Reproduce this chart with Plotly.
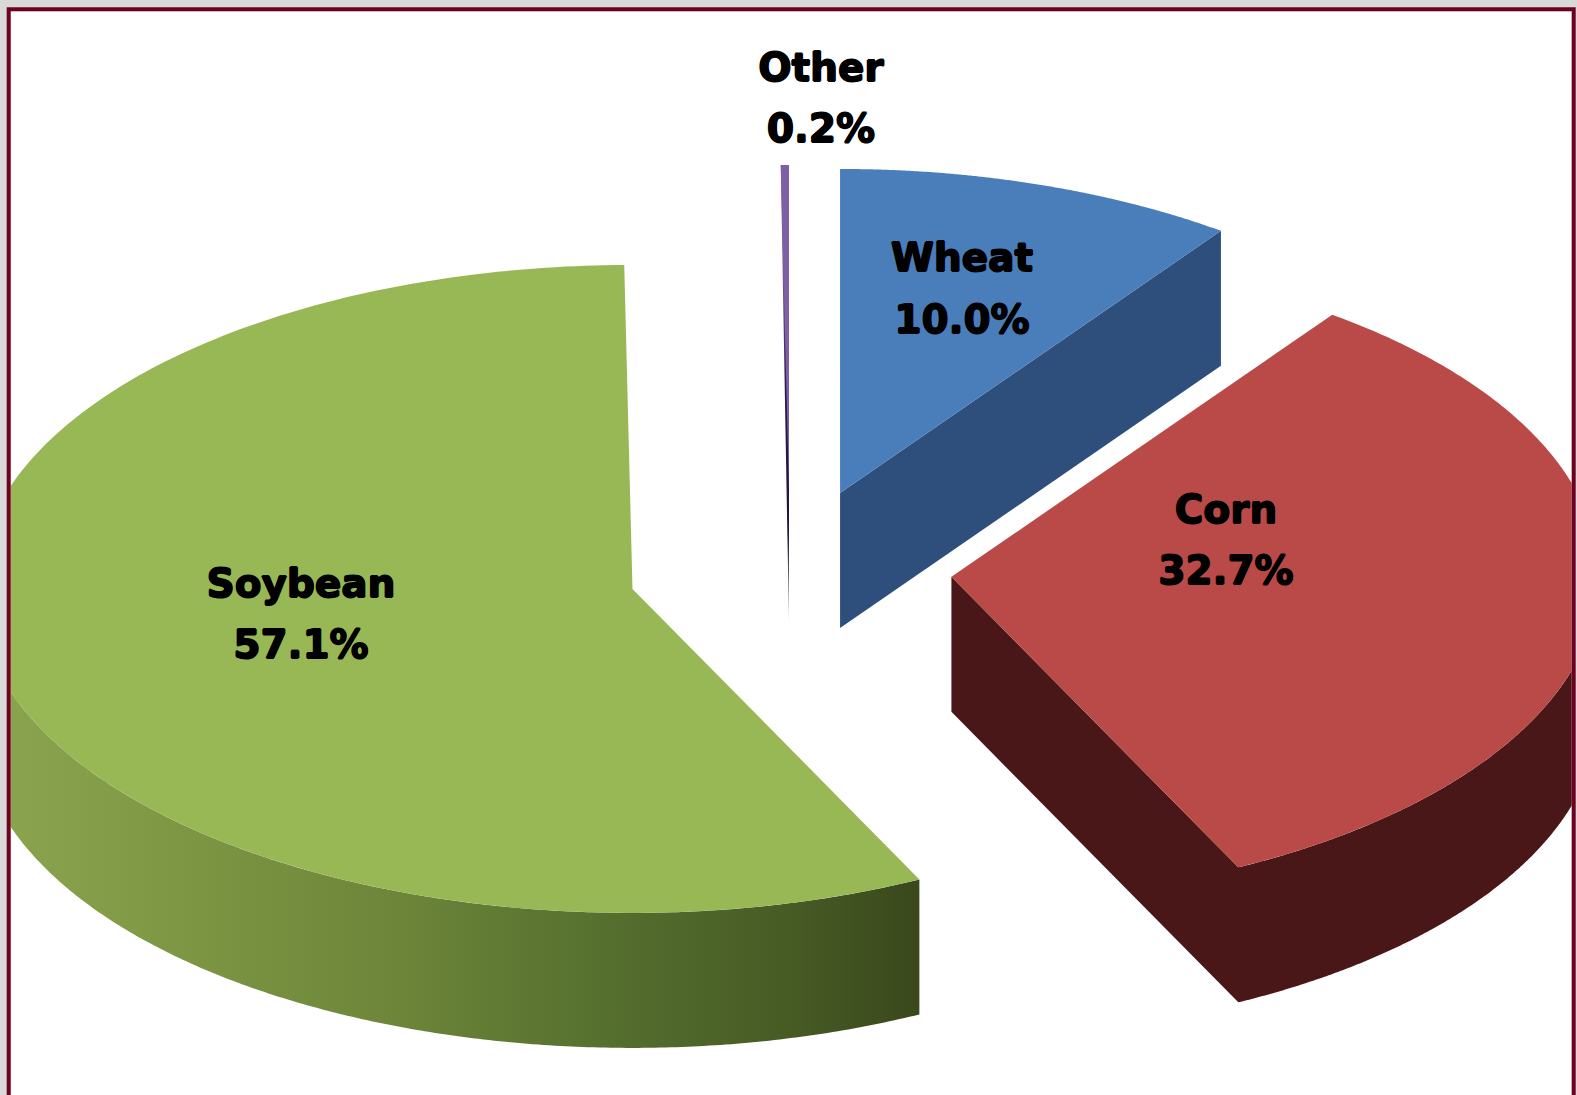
import numpy as np
import plotly.graph_objects as go

categories = ['Wheat', 'Corn', 'Soybean', 'Other']
shares = [10.0, 32.7, 57.1, 0.2]
pct_labels = ['10.0%', '32.7%', '57.1%', '0.2%']

top_colors = ['#4A7EBB', '#BA4A48', '#98B856', '#7F5FA5']
side_colors = ['#2E4F7C', '#4A1719']

# page geometry, pixels
W, H = 1577, 1095
CX, CY = 790, 570
RX, RY = 648, 324
LEFT_STRETCH = 1.012  # the far left of the pie sits a bit wider in the original
DEPTH = 135
EXPLODE = 0.25

label_x = [962, 1226, 301, 821]
name_y = [261, 513, 587, 71]
pct_y = [323, 574, 648, 132]


def project(theta, apex):
    # theta in radians, clockwise from 12 o'clock
    s = np.sin(theta)
    return apex[0] + RX * s * np.where(s < 0, LEFT_STRETCH, 1), apex[1] - RY * np.cos(theta)


def arc(a0, a1, apex, drop=0):
    t = np.linspace(a0, a1, 240)
    x, y = project(t, apex)
    return x, y + drop


fig = go.Figure()

edges = np.cumsum([0] + shares) / sum(shares) * 2 * np.pi
slices = []
for i, name in enumerate(categories):
    a0, a1 = edges[i], edges[i + 1]
    mid = (a0 + a1) / 2
    apex = (CX + EXPLODE * RX * np.sin(mid), CY - EXPLODE * RY * np.cos(mid))
    slices.append((name, a0, a1, apex))


def add_poly(x, y, color=None, gradient=None):
    kw = dict(fillgradient=gradient) if gradient else dict(fillcolor=color)
    fig.add_trace(go.Scatter(x=x, y=y, mode='none', fill='toself',
                             hoverinfo='skip', showlegend=False, **kw))


# Side walls first, then the top faces
name, a0, a1, apex = slices[2]
x, y = arc(a0, 1.5 * np.pi, apex)
xb, yb = arc(1.5 * np.pi, a0, apex, DEPTH)
add_poly(np.r_[x, xb], np.r_[y, yb], gradient=dict(
    type='horizontal',
    colorscale=[[0, '#8CA650'], [0.17, '#809A46'], [0.45, '#6C8539'],
                [0.66, '#56702F'], [0.87, '#465A24'], [1, '#3A481C']]))

# Other: thin dark sliver behind the purple one, running down to a point
name, a0, a1, apex = slices[3]
x, y = arc(a0, a1, apex)
add_poly(np.r_[x[0], apex[0], x[-1]], np.r_[y[0], apex[1] + DEPTH, y[-1]], gradient=dict(
    type='vertical',
    colorscale=[[0, '#D8D8D8'], [0.05, '#8A8490'], [0.2, '#21133A'],
                [0.5, '#2A1A4A'], [0.8, '#7F5FA5'], [1, '#7F5FA5']]))

# Wheat: cut wall at its far edge
name, a0, a1, apex = slices[0]
ex, ey = project(a1, apex)
add_poly([apex[0], ex, ex, apex[0]], [apex[1], ey, ey + DEPTH, apex[1] + DEPTH],
         color=side_colors[0])

# Corn: cut wall and front rim as one outline
name, a0, a1, apex = slices[1]
x, y = arc(0.5 * np.pi, a1, apex)
xb, yb = arc(a1, 0.5 * np.pi, apex, DEPTH)
add_poly(np.r_[apex[0], x[::-1], xb[::-1], apex[0]],
         np.r_[apex[1], y[::-1], yb[::-1], apex[1] + DEPTH],
         color=side_colors[1])

for i, (name, a0, a1, apex) in enumerate(slices):
    x, y = arc(a0, a1, apex)
    add_poly(np.r_[apex[0], x], np.r_[apex[1], y], color=top_colors[i])

label_font = dict(family='DejaVu Sans', size=39, color='#000000', weight=700,
                  shadow='0.8px 0 0 #000, -0.8px 0 0 #000, 0 0.8px 0 #000, 0 -0.8px 0 #000')
for ys, texts in [(name_y, categories), (pct_y, pct_labels)]:
    fig.add_trace(go.Scatter(x=label_x, y=ys, text=texts, mode='text',
                             textposition='middle center', textfont=label_font,
                             hoverinfo='skip', showlegend=False))

fig.update_layout(
    width=W, height=H,
    margin=dict(l=0, r=0, t=0, b=0),
    paper_bgcolor='#D9D9D9',
    plot_bgcolor='#FFFFFF',
    xaxis=dict(visible=False, range=[10.7, 1571.7], domain=[10.7 / W, 1571.7 / W]),
    yaxis=dict(visible=False, range=[H, 11.3], domain=[0, (H - 11.3) / H]),
    shapes=[dict(type='rect', xref='paper', yref='paper', layer='above',
                 x0=8.7 / W, x1=1573.7 / W, y0=-0.02, y1=1 - 9.3 / H,
                 line=dict(color='#6E0020', width=4), fillcolor='rgba(0,0,0,0)')],
)

fig.write_html("out.html", config=dict(displayModeBar=False),
               post_script="document.body.style.margin='0';document.body.style.overflow='hidden';")
